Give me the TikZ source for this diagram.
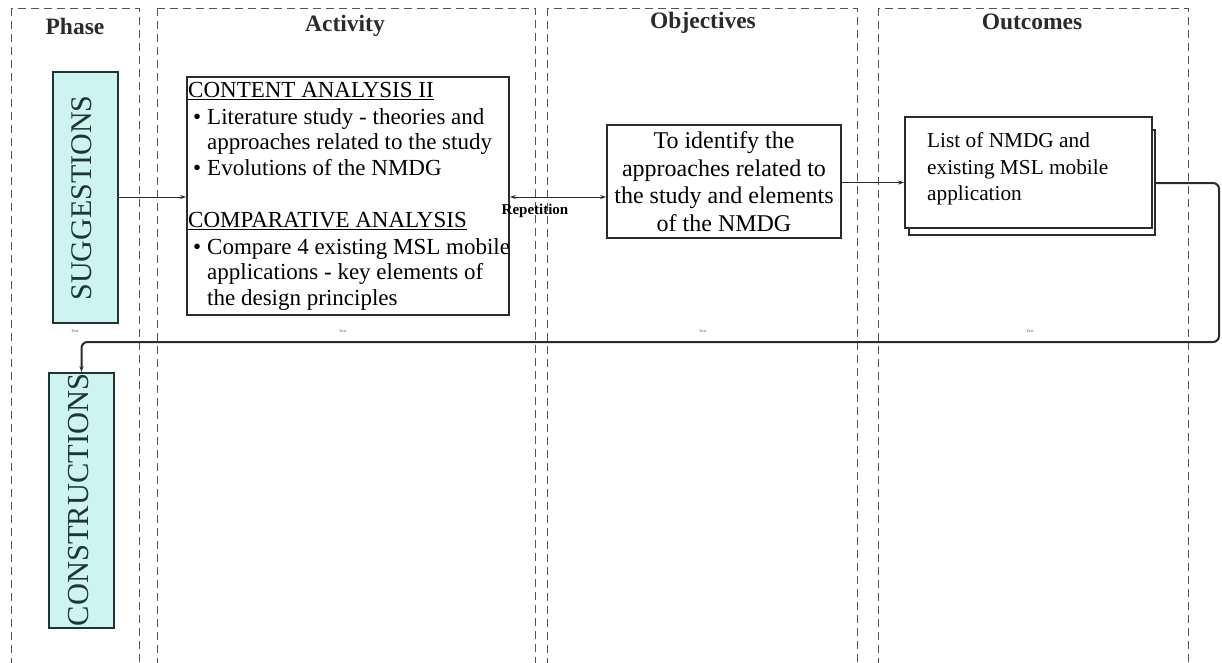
\documentclass[tikz,border=0pt]{standalone}
\usepackage{fontspec}
\setmainfont{Liberation Serif}
\usetikzlibrary{arrows.meta}
\definecolor{lane}{HTML}{555555}
\definecolor{ink}{HTML}{2B2B2B}
\definecolor{phasefill}{HTML}{CDF4EF}
\definecolor{phaseink}{HTML}{1F3535}
\tikzset{
  lanebox/.style={draw=lane, line width=1pt, dash pattern=on 8pt off 5pt},
  lanehead/.style={font=\fontsize{23.5}{26}\selectfont\bfseries, text=ink, inner sep=0pt},
  phasebox/.style={draw=phaseink, line width=1.6pt, fill=phasefill, inner sep=0pt},
  phasetext/.style={rotate=90, text=phaseink, inner sep=0pt},
  plainbox/.style={draw=ink, line width=1.6pt, fill=white, inner sep=0pt},
  line23/.style={font=\fontsize{23}{25}\selectfont, text=black, inner sep=0pt, anchor=base west},
  outline/.style={font=\fontsize{21.3}{25}\selectfont, text=black, inner sep=0pt, anchor=base west},
  tinylabel/.style={font=\fontsize{4}{5}\selectfont, text=black!70, inner sep=0pt},
  flow/.style={draw=ink, line width=1pt, -{Stealth[length=6pt,width=4pt]}},
}
\begin{document}
\begin{tikzpicture}[x=1pt,y=-1pt]
\useasboundingbox (0,0) rectangle (1222,662);
\clip (0,0) rectangle (1222,662);
\fill[white] (0,0) rectangle (1222,662);

% swim lanes
\draw[lanebox] (11,8) rectangle (139,700);
\draw[lanebox] (157,8) rectangle (535,700);
\draw[lanebox] (547,8) rectangle (857,700);
\draw[lanebox] (878,8) rectangle (1188,700);

\node[lanehead] (hPhase) at (75,26) {Phase};
\node[lanehead] (hAct) at (345,26) {Activity};
\node[lanehead] (hObj) at (703,23) {Objectives};
\node[lanehead] (hOut) at (1032,22) {Outcomes};

% phases
\node[phasebox, minimum width=65pt, minimum height=251pt] (sug) at (85.5,197.5) {};
\node[phasetext, font=\fontsize{30}{32}\selectfont] (sugT) at (82,198) {SUGGESTIONS};
\node[phasebox, minimum width=65pt, minimum height=255pt] (con) at (81.5,500.5) {};
\node[phasetext, font=\fontsize{30.5}{32}\selectfont] (conT) at (79,500) {CONSTRUCTIONS};

% activity box
\node[plainbox, minimum width=322pt, minimum height=238pt] (act) at (348,196) {};
\node[line23] (a1) at (188,97.5) {\underline{CONTENT ANALYSIS II}};
\node[line23] (a2) at (193,124) {•};
\node[line23] (a3) at (207,124) {Literature study - theories and};
\node[line23] (a4) at (207,149.5) {approaches related to the study};
\node[line23] (a5) at (193,175) {•};
\node[line23] (a6) at (207,175) {Evolutions of the NMDG};
\node[line23] (a7) at (188,227.5) {\underline{COMPARATIVE ANALYSIS}};
\node[line23] (a8) at (193,254) {•};
\node[line23] (a9) at (207,254) {Compare 4 existing MSL mobile};
\node[line23] (a10) at (207,279.5) {applications - key elements of};
\node[line23] (a11) at (207,305) {the design principles};

% objectives box
\node[plainbox, minimum width=234pt, minimum height=113pt, align=center,
      font=\fontsize{24}{27.5}\selectfont] (obj) at (724,181.5)
  {To identify the\\approaches related to\\the study and elements\\of the NMDG};

% outcomes box (stacked sheets)
\node[plainbox, minimum width=246pt, minimum height=105pt] (outback) at (1032,182.5) {};
\node[plainbox, minimum width=247pt, minimum height=111pt] (out) at (1028.5,172.5) {};
\node[outline] (o1) at (927,147) {List of NMDG and};
\node[outline] (o2) at (927,174) {existing MSL mobile};
\node[outline] (o3) at (927,200) {application};

% placeholder labels along the bottom of the first row
\node[tinylabel] (t1) at (75,331) {Text};
\node[tinylabel] (t2) at (343,331) {Text};
\node[tinylabel] (t3) at (703,331) {Text};
\node[tinylabel] (t4) at (1030,331) {Text};

% connectors
\draw[flow] (sug.east |- 0,197) -- (act.west |- 0,197);
\draw[flow, {Stealth[length=6pt,width=4pt]}-{Stealth[length=6pt,width=4pt]}]
  (act.east |- 0,197) -- (obj.west |- 0,197);
\node[font=\fontsize{15}{17}\selectfont\bfseries, inner sep=0pt] (rep) at (535,211) {Repetition};
\draw[flow] (obj.east |- 0,182.5) -- (out.west |- 0,182.5);

\coordinate (loopR) at (1219,342);
\draw[flow, line width=2pt, rounded corners=6pt]
  (outback.east |- 0,183) -| (loopR) -| (con.north);
\end{tikzpicture}
\end{document}
